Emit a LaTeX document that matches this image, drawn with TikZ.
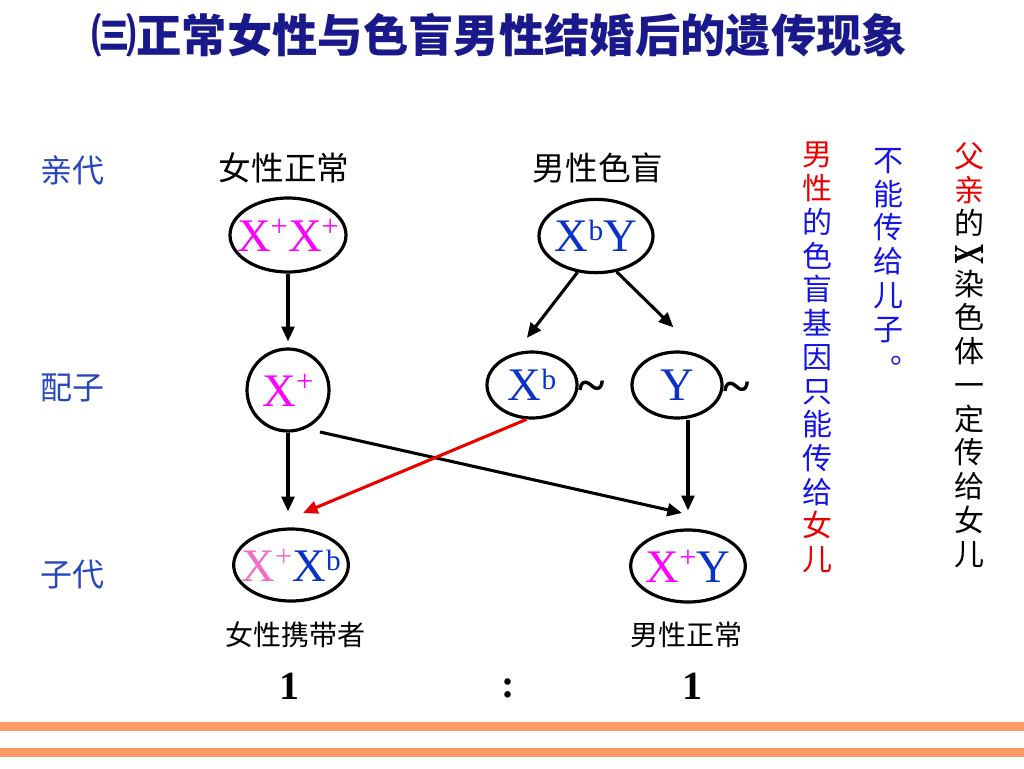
\documentclass[tikz,border=0pt]{standalone}
\usepackage{fontspec}
\usepackage{graphicx}
\setmainfont{Liberation Serif}
\newfontfamily\cjk{Noto Sans CJK SC}
\usetikzlibrary{shapes.geometric,arrows.meta}
\definecolor{titleblue}{RGB}{25,25,140}
\definecolor{lblblue}{RGB}{40,70,190}
\definecolor{genblue}{RGB}{10,50,200}
\definecolor{genmag}{RGB}{255,0,255}
\definecolor{genpink}{RGB}{240,110,200}
\definecolor{txtred}{RGB}{235,0,0}
\definecolor{colblue}{RGB}{20,20,230}
\definecolor{stripe}{RGB}{255,153,102}
\newcommand{\gsup}[1]{\raisebox{11pt}{\fontsize{23pt}{23pt}\selectfont #1}}
\newcommand{\gsupb}[1]{\raisebox{8pt}{\fontsize{22pt}{22pt}\selectfont #1}}
\begin{document}
\begin{tikzpicture}[x=0.75pt,y=-0.75pt,
  gell/.style={ellipse,draw=black,line width=2.4pt,inner sep=0pt},
  gt/.style={font=\fontsize{35pt}{35pt}\selectfont,inner sep=0pt},
  arr/.style={line width=2.3pt,-{Triangle[length=11pt,width=9.5pt]}},
  side/.style={font=\cjk\fontsize{24pt}{24pt}\selectfont,text=lblblue,inner sep=0pt},
  head/.style={font=\cjk\fontsize{24.5pt}{24.5pt}\selectfont,inner sep=0pt},
  sub/.style={font=\cjk\fontsize{21pt}{21pt}\selectfont,inner sep=0pt},
  ratio/.style={font=\fontsize{30pt}{30pt}\selectfont\bfseries,inner sep=0pt},
  vcol/.style={font=\cjk\fontsize{22.5pt}{25.3pt}\selectfont,align=center,inner sep=0pt,anchor=north},
  tild/.style={font=\fontsize{38pt}{38pt}\selectfont\bfseries,inner sep=0pt,anchor=base}
]
\useasboundingbox (0,0) rectangle (1024,768);
\fill[white] (0,0) rectangle (1024,768);

% title
\node[font=\cjk\bfseries\fontsize{34pt}{34pt}\selectfont,text=titleblue,inner sep=0pt] (title) at (499,35) {㈢正常女性与色盲男性结婚后的遗传现象};

% row labels
\node[side] (lp) at (72,170) {亲代};
\node[side] (lg) at (72,388) {配子};
\node[side] (lo) at (72,575) {子代};

% headers
\node[head] (h1) at (284,168) {女性正常};
\node[head] (h2) at (598,168) {男性色盲};

% parents
\node[gell,minimum width=87pt,minimum height=55.5pt,
  label={[gt,text=genmag]center:X\gsup{+}X\gsup{+}}] (p1) at (288,235) {};
\node[gell,minimum width=85.5pt,minimum height=55pt,
  label={[gt,text=genblue]center:X\gsupb{b}Y}] (p2) at (596,236) {};

% gametes
\node[gell,minimum width=61.5pt,minimum height=61.5pt,
  label={[gt,text=genmag]center:X\gsup{+}}] (g1) at (288,390) {};
\node[gell,minimum width=67.5pt,minimum height=49.5pt,
  label={[gt,text=genblue]center:X\gsupb{b}}] (g2) at (532,385) {};
\node[gell,minimum width=67.5pt,minimum height=49.5pt,
  label={[gt,text=genblue]center:Y}] (g3) at (677,385) {};
\node[tild] (t1) at (592,402) {\textasciitilde};
\node[tild] (t2) at (737,403) {\textasciitilde};

% offspring
\node[gell,minimum width=86pt,minimum height=54pt,
  label={[gt]center:\textcolor{genpink}{X\gsup{+}}\textcolor{genblue}{X\gsupb{b}}}] (o1) at (291,565) {};
\node[gell,minimum width=86pt,minimum height=54pt,
  label={[gt]center:\textcolor{genmag}{X\gsup{+}}\textcolor{genblue}{Y}}] (o2) at (688,566) {};

\node[sub] (s1) at (295,635) {女性携带者};
\node[sub] (s2) at (686,635) {男性正常};

\node[ratio] (r1) at (289,686) {1};
\node[ratio] (rc) at (508,688) {:};
\node[ratio] (r2) at (692,686) {1};

% arrows
\draw[arr,shorten >=4.5pt] (p1.south) -- (g1.north);
\draw[arr,shorten >=14pt] (p2.243) -- (g2.117);
\draw[arr,shorten >=31pt] (p2.300) -- (g3.48);
\draw[arr,shorten >=12pt] (g1.south) -- (g1.south |- o1.north);
\draw[arr] ([shift={(32,42)}]g1.center) -- ([shift={(-6,-53)}]o2.center);
\draw[arr,shorten >=13.5pt] (o2.north |- g3.south) -- (o2.north);
\draw[arr,draw=txtred,fill=txtred] (g2.261) -- ([shift={(12,-52)}]o1.center);

% vertical texts
\node[vcol,text=colblue] (c1) at (817,142) {\textcolor{txtred}{男}\\\textcolor{txtred}{性}\\的\\色\\盲\\基\\因\\只\\能\\传\\给\\\textcolor{txtred}{女}\\\textcolor{txtred}{儿}};
\node[vcol,text=colblue] (c2) at (888,148) {不\\能\\传\\给\\儿\\子};
\node[font=\cjk\fontsize{22.5pt}{22.5pt}\selectfont,text=colblue,inner sep=0pt] (c2dot) at (905,361) {。};
\node[vcol,text=black] (c3) at (969,142) {\textcolor{txtred}{父}\\\textcolor{txtred}{亲}\\的\\[-3pt]\resizebox{21pt}{15pt}{\rotatebox{90}{\rmfamily\bfseries X}}\\[-2.25pt]染\\色\\体\\一\\定\\传\\给\\女\\儿};

% stripes
\fill[stripe] (0,722) rectangle (1024,731);
\fill[stripe] (0,748) rectangle (1024,757);
\end{tikzpicture}
\end{document}
